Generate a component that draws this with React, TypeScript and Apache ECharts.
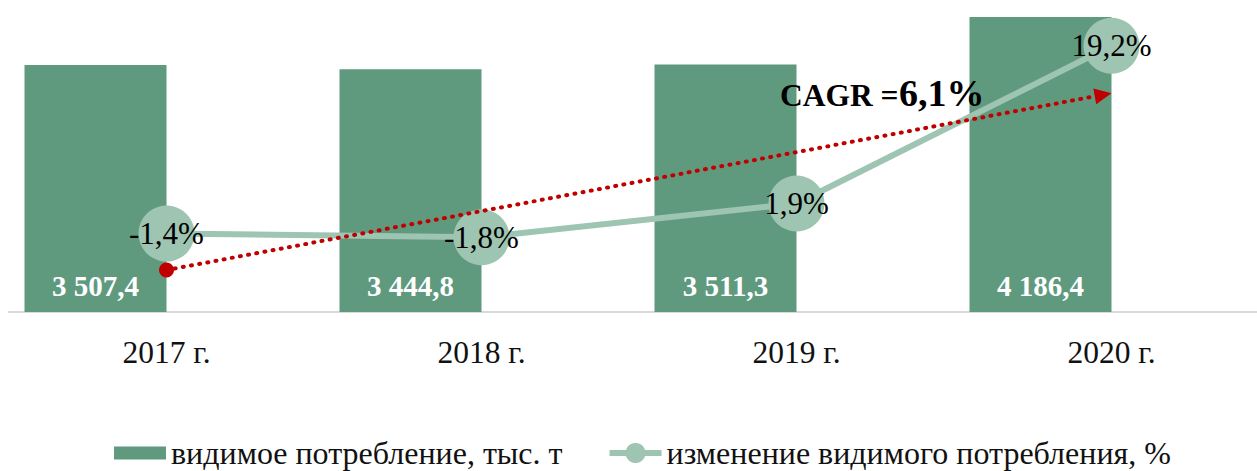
import React, { useEffect, useRef } from "react";
import * as echarts from "echarts";

const categories = ["2017 г.", "2018 г.", "2019 г.", "2020 г."];
const consumption = [3507.4, 3444.8, 3511.3, 4186.4];
const changePct = [-1.4, -1.8, 1.9, 19.2];
const barName = "видимое потребление, тыс. т";
const lineName = "изменение видимого потребления, %";
const cagrTitle = "CAGR =";
const cagrValue = "6,1%";
// CAGR arrow ends, expressed on the % axis
const cagrFrom = -5.4;
const cagrTo = 14.0;

const FONT = "'Times New Roman', 'Liberation Serif', serif";
const BAR_COLOR = "#5F9A7F";
const LINE_COLOR = "#9EC4B2";
const RED = "#C00000";

const fmtNum = (v: number) => {
  const [i, d] = v.toFixed(1).split(".");
  return i.replace(/\B(?=(\d{3})+(?!\d))/g, " ") + "," + d;
};
const fmtPct = (v: number) => v.toFixed(1).replace(".", ",") + "%";

export default function App() {
  const ref = useRef<HTMLDivElement>(null);
  useEffect(() => {
    if (!ref.current) return;
    const chart = echarts.init(ref.current, undefined, { renderer: "svg" });
    const option: any = {
      animation: false,
      backgroundColor: "#fff",
      textStyle: { fontFamily: FONT },
      grid: { left: 9, right: 11, top: 2, bottom: 159, containLabel: false, outerBoundsMode: "none" },
      legend: {
        left: 114,
        top: 437,
        padding: 0,
        itemWidth: 52,
        itemHeight: 25,
        itemGap: 44,
        textStyle: { fontFamily: FONT, fontSize: 32, lineHeight: 28, color: "#111" },
        data: [
          { name: barName, icon: "path://M0,0H52V13H0Z" },
          { name: lineName, lineStyle: { width: 6 } },
        ],
      },
      xAxis: {
        type: "category",
        data: categories,
        axisLine: { show: true, lineStyle: { color: "#D9D9D9", width: 2 } },
        axisTick: { show: false },
        axisLabel: { fontFamily: FONT, fontSize: 31.5, color: "#111", margin: 24 },
      },
      yAxis: [
        { type: "value", min: 0, max: 4400, show: false, splitLine: { show: false } },
        { type: "value", min: -10, max: 24, show: false, splitLine: { show: false } },
      ],
      series: [
        {
          type: "bar",
          name: barName,
          data: consumption,
          barWidth: 142,
          barGap: "0%",
          itemStyle: { color: BAR_COLOR },
          label: {
            show: true,
            position: "insideBottom",
            distance: 12,
            color: "#fff",
            fontWeight: "bold",
            fontSize: 29,
            fontFamily: FONT,
            formatter: (p: any) => fmtNum(p.value),
          },
        },
        {
          type: "bar",
          name: "_placeholder",
          data: categories.map(() => "-"),
          barWidth: 142,
          barGap: "0%",
          silent: true,
        },
        {
          type: "line",
          name: lineName,
          yAxisIndex: 1,
          data: changePct,
          symbol: "circle",
          symbolSize: 56,
          itemStyle: { color: LINE_COLOR },
          lineStyle: { color: LINE_COLOR, width: 6 },
          z: 5,
          label: {
            show: true,
            position: "inside",
            color: "#000",
            fontSize: 31,
            fontFamily: FONT,
            formatter: (p: any) => fmtPct(p.value),
          },
        },
      ],
    };
    chart.setOption(option);

    const p0 = chart.convertToPixel({ seriesIndex: 2 }, [0, cagrFrom]) as number[];
    const p1 = chart.convertToPixel({ seriesIndex: 2 }, [categories.length - 1, cagrTo]) as number[];
    const dx = p1[0] - p0[0];
    const dy = p1[1] - p0[1];
    const len = Math.sqrt(dx * dx + dy * dy);
    const ux = dx / len, uy = dy / len;
    const nx = -uy, ny = ux;
    const aLen = 17, aHalf = 8;
    const bx = p1[0] - ux * aLen, by = p1[1] - uy * aLen;

    chart.setOption({
      graphic: [
        {
          type: "line",
          z: 10,
          shape: { x1: p0[0], y1: p0[1], x2: bx, y2: by },
          style: { stroke: RED, lineWidth: 4, lineDash: [1, 7.3], lineCap: "round" },
        },
        {
          type: "circle",
          z: 10,
          shape: { cx: p0[0], cy: p0[1], r: 7.5 },
          style: { fill: RED },
        },
        {
          type: "polygon",
          z: 10,
          shape: {
            points: [
              [p1[0], p1[1]],
              [bx + nx * aHalf, by + ny * aHalf],
              [bx - nx * aHalf, by - ny * aHalf],
            ],
          },
          style: { fill: RED },
        },
        {
          type: "text",
          z: 10,
          x: 780,
          y: 95.5,
          style: {
            text: cagrTitle,
            fontFamily: FONT,
            fontSize: 31.5,
            fontWeight: "bold",
            fill: "#000",
            verticalAlign: "middle",
            align: "left",
          },
        },
        {
          type: "text",
          z: 10,
          x: 899,
          y: 93,
          style: {
            text: cagrValue,
            fontFamily: FONT,
            fontSize: 38,
            fontWeight: "bold",
            fill: "#000",
            verticalAlign: "middle",
            align: "left",
          },
        },
      ],
    });

    return () => chart.dispose();
  }, []);

  return (
    <div
      style={{
        position: "fixed",
        left: 0,
        top: 0,
        width: 1257,
        height: 471,
        overflow: "hidden",
        background: "#fff",
      }}
    >
      <div ref={ref} style={{ width: 1280, height: 471 }} />
    </div>
  );
}
